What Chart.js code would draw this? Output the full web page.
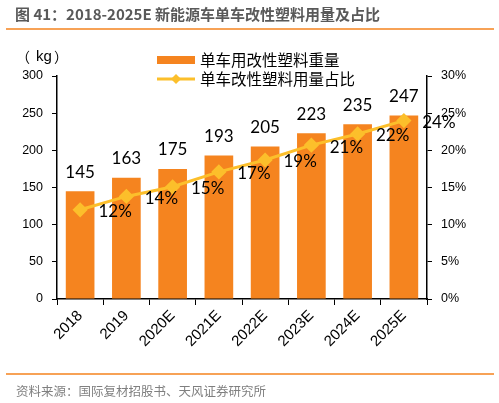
<!DOCTYPE html>
<html>
<head>
<meta charset="utf-8">
<script src="https://cdn.jsdelivr.net/npm/chart.js@4/dist/chart.umd.min.js"></script>
<style>
  html, body { margin: 0; padding: 0; background: #fff; }
  canvas { display: block; }
</style>
</head>
<body>
<canvas id="myChart" width="499" height="403"></canvas>
<script>
const categories = ['2018', '2019', '2020E', '2021E', '2022E', '2023E', '2024E', '2025E'];
const weights = [145, 163, 175, 193, 205, 223, 235, 247];
const shares = [12, 13.8, 15.1, 17.1, 18.7, 20.7, 22.2, 24];
const shareLabels = ['12%', '14%', '15%', '17%', '19%', '21%', '22%', '24%'];
const barName = '单车用改性塑料重量';
const lineName = '单车改性塑料用量占比';
const titleText = '图 41：2018-2025E 新能源车单车改性塑料用量及占比';
const sourceText = '资料来源：国际复材招股书、天风证券研究所';

const ORANGE = '#F5841F';
const GOLD = '#FCBF2B';
const CJK = '"Noto Sans CJK SC", sans-serif';
const NUM = 'Lato, "Noto Sans CJK SC", sans-serif';
const AXF = '"Liberation Sans", Arial, sans-serif';

// title, rules, legend, unit and the value labels
const decor = {
    id: 'decor',
    afterDraw(chart) {
        const c = chart.ctx;
        c.save();
        c.fillStyle = '#595959';
        c.font = 'bold 15px ' + CJK;
        c.textBaseline = 'middle';
        c.fillText(titleText, 15, 14);

        c.strokeStyle = ORANGE;
        c.lineWidth = 1.5;
        c.beginPath();
        c.moveTo(6, 29); c.lineTo(494, 29);
        c.moveTo(6, 374); c.lineTo(494, 374);
        c.stroke();

        c.fillStyle = '#7f7f7f';
        c.font = '12.5px ' + CJK;
        c.fillText(sourceText, 16, 391);

        c.fillStyle = '#000';
        c.font = '14px ' + CJK;
        c.fillText('（', 16, 57);
        c.font = '15px ' + AXF;
        c.fillText('kg', 36, 57);
        c.font = '14px ' + CJK;
        c.fillText('）', 54, 57);

        // legend
        c.fillStyle = ORANGE;
        c.fillRect(157, 56, 38, 8);
        c.strokeStyle = GOLD;
        c.lineWidth = 3;
        c.beginPath();
        c.moveTo(157, 79); c.lineTo(195, 79);
        c.stroke();
        c.fillStyle = GOLD;
        c.beginPath();
        c.moveTo(176, 74); c.lineTo(181, 79); c.lineTo(176, 84); c.lineTo(171, 79);
        c.closePath();
        c.fill();
        c.fillStyle = '#000';
        c.font = '15.5px ' + CJK;
        c.fillText(barName, 200, 60);
        c.fillText(lineName, 200, 79);
        c.restore();
    },
    afterDatasetsDraw(chart) {
        const c = chart.ctx;
        c.save();
        c.fillStyle = '#000';
        c.font = '17px ' + NUM;
        c.textBaseline = 'middle';
        c.textAlign = 'center';
        chart.getDatasetMeta(0).data.forEach(function (bar, i) {
            c.fillText(String(weights[i]), bar.x, bar.y - 19);
        });
        chart.getDatasetMeta(1).data.forEach(function (pt, i) {
            c.fillText(shareLabels[i], pt.x + 35, pt.y + 2);
        });
        c.restore();
    }
};

const ctx = document.getElementById('myChart');
new Chart(ctx, {
    data: {
        labels: categories,
        datasets: [{
            type: 'bar',
            label: barName,
            data: weights,
            backgroundColor: ORANGE,
            barPercentage: 0.62,
            categoryPercentage: 1,
            yAxisID: 'y',
            order: 2
        }, {
            type: 'line',
            label: lineName,
            data: shares,
            borderColor: GOLD,
            backgroundColor: GOLD,
            borderWidth: 3,
            pointStyle: 'rectRot',
            pointRadius: 5.5,
            pointBackgroundColor: GOLD,
            pointBorderColor: GOLD,
            yAxisID: 'y1',
            order: 1
        }]
    },
    options: {
        responsive: false,
        animation: false,
        layout: { padding: { top: 76, left: 0, right: 0, bottom: 0 } },
        plugins: {
            legend: { display: false },
            tooltip: { enabled: false }
        },
        scales: {
            x: {
                grid: { offset: true, drawOnChartArea: false, drawTicks: true, tickLength: 6, color: '#000' },
                border: { color: '#000', width: 1.5 },
                ticks: { minRotation: 45, maxRotation: 45, color: '#000', font: { size: 15, family: AXF }, padding: 2 },
                afterFit(s) { s.height = 104; }
            },
            y: {
                position: 'left',
                min: 0,
                max: 300,
                grid: { drawOnChartArea: false, drawTicks: true, tickLength: 5, color: '#000' },
                border: { color: '#000', width: 1.5 },
                ticks: { stepSize: 50, color: '#000', font: { size: 12.5, family: AXF }, padding: 9 },
                afterFit(s) { s.width = 57; }
            },
            y1: {
                position: 'right',
                min: 0,
                max: 30,
                grid: { drawOnChartArea: false, drawTicks: true, tickLength: 5, color: '#000' },
                border: { color: '#000', width: 1.5 },
                ticks: { stepSize: 5, color: '#000', font: { size: 12.5, family: AXF }, padding: 9,
                    callback: function (v) { return v + '%'; } },
                afterFit(s) { s.width = 72; }
            }
        }
    },
    plugins: [decor]
});
</script>
</body>
</html>
